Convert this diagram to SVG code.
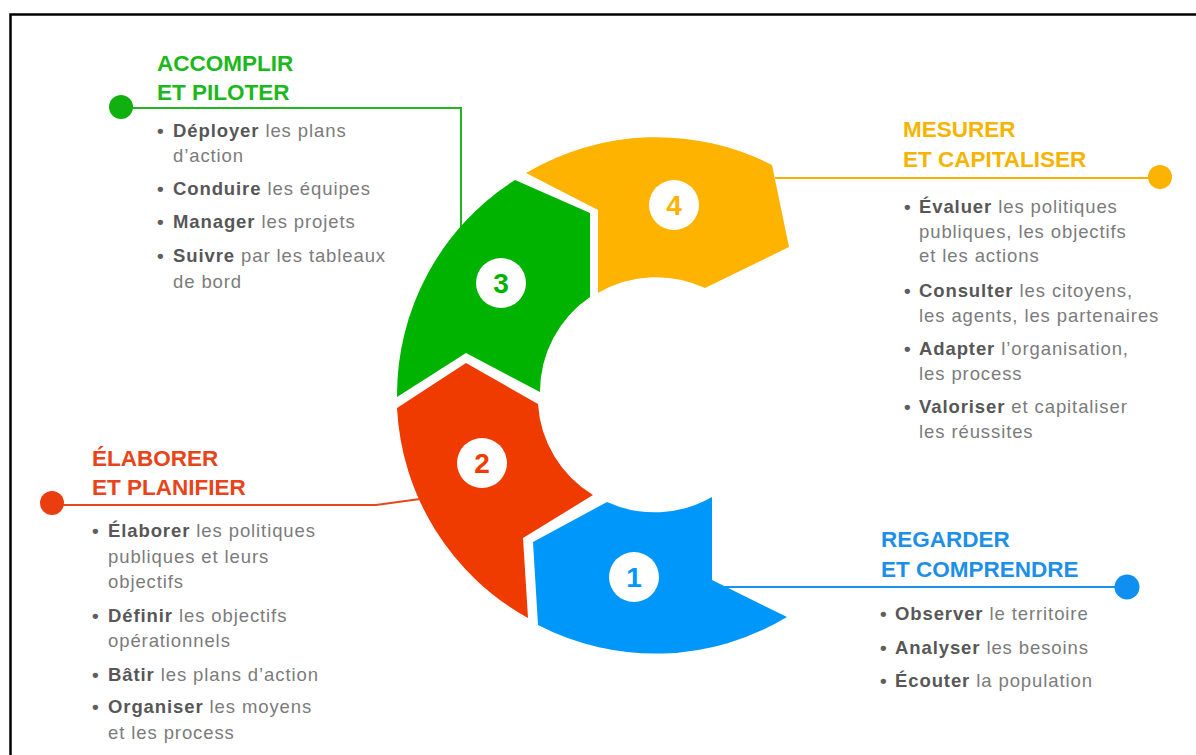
<svg xmlns="http://www.w3.org/2000/svg" width="1196" height="755" viewBox="0 0 1196 755">
<style>
.h{font-family:'Liberation Sans',Arial,sans-serif;font-weight:bold;font-size:22.5px}
.t{font-family:'Liberation Sans',Arial,sans-serif;font-size:18.5px;letter-spacing:0.9px;fill:#7b7b7b}
.t .b{font-weight:bold;fill:#575757}
.bul{font-family:'Liberation Sans',Arial,sans-serif;font-size:19px;font-weight:bold;fill:#5e5e5e}
.num{font-family:'Liberation Sans',Arial,sans-serif;font-weight:bold;font-size:28px;text-anchor:middle}
.c{fill:none;stroke-width:2}
</style>
<rect x="0" y="0" width="1196" height="755" fill="#ffffff"/>
<path d="M10.5,755 V14.5 H1196" fill="none" stroke="#000" stroke-width="2.5"/>

<g id="connectors">
  <polyline class="c" stroke="#22b422" points="121,108 461,108 461,227"/>
  <circle cx="121" cy="107" r="12" fill="#10b010"/>
  <polyline class="c" stroke="#e8461a" points="52,505 376,505 420,499"/>
  <circle cx="52" cy="503" r="12" fill="#ea3e10"/>
  <line class="c" stroke="#f7b200" x1="775" y1="178" x2="1160" y2="178"/>
  <circle cx="1160" cy="177" r="12" fill="#fbb300"/>
  <line class="c" stroke="#1a92ec" x1="714" y1="587" x2="1127" y2="587"/>
  <circle cx="1127" cy="587" r="12.5" fill="#0f90f0"/>
</g>

<g id="step4">
  <path d="M526,173 A255,255 0 0 1 772,165 L789,247 L705,288 A115,115 0 0 0 598,293 L598,210 Z" fill="#fdb300"/>
  <circle cx="674" cy="205" r="25" fill="#fff"/>
  <text class="num" x="674" y="215" fill="#fdb300">4</text>
</g>
<g id="step3">
  <path d="M397,397 A255,255 0 0 1 515,180 L590,213 L590,297 A115,115 0 0 0 540,392 L466,353 Z" fill="#00b300"/>
  <circle cx="501" cy="283" r="25" fill="#fff"/>
  <text class="num" x="501" y="293" fill="#00b300">3</text>
</g>
<g id="step2">
  <path d="M528,618 A255,255 0 0 1 397,408 L466,363 L538,404 A115,115 0 0 0 593,495 L523,538 Z" fill="#ef3b00"/>
  <circle cx="482" cy="463" r="25" fill="#fff"/>
  <text class="num" x="482" y="473" fill="#ef3b00">2</text>
</g>
<g id="step1">
  <path d="M538,625 A255,255 0 0 0 787,617 L712,580 L712,497 A115,115 0 0 1 607,502 L533,542 Z" fill="#0097fb"/>
  <circle cx="634" cy="577" r="25" fill="#fff"/>
  <text class="num" x="634" y="587" fill="#0097fb">1</text>
</g>

<g id="label3">
  <text class="h" x="157" y="71" fill="#1cb81c">ACCOMPLIR</text>
  <text class="h" x="157" y="100" fill="#1cb81c">ET PILOTER</text>
  <text class="bul" x="157" y="137">•</text>
  <text class="t" x="173" y="137"><tspan class="b">Déployer</tspan> les plans</text>
  <text class="t" x="173" y="162">d’action</text>
  <text class="bul" x="157" y="195">•</text>
  <text class="t" x="173" y="195"><tspan class="b">Conduire</tspan> les équipes</text>
  <text class="bul" x="157" y="228">•</text>
  <text class="t" x="173" y="228"><tspan class="b">Manager</tspan> les projets</text>
  <text class="bul" x="157" y="262">•</text>
  <text class="t" x="173" y="262"><tspan class="b">Suivre</tspan> par les tableaux</text>
  <text class="t" x="173" y="288">de bord</text>
</g>

<g id="label2">
  <text class="h" x="92" y="466" fill="#e8441a">ÉLABORER</text>
  <text class="h" x="92" y="495" fill="#e8441a">ET PLANIFIER</text>
  <text class="bul" x="92" y="537">•</text>
  <text class="t" x="108" y="537"><tspan class="b">Élaborer</tspan> les politiques</text>
  <text class="t" x="108" y="563">publiques et leurs</text>
  <text class="t" x="108" y="588">objectifs</text>
  <text class="bul" x="92" y="622">•</text>
  <text class="t" x="108" y="622"><tspan class="b">Définir</tspan> les objectifs</text>
  <text class="t" x="108" y="647">opérationnels</text>
  <text class="bul" x="92" y="681">•</text>
  <text class="t" x="108" y="681"><tspan class="b">Bâtir</tspan> les plans d’action</text>
  <text class="bul" x="92" y="713">•</text>
  <text class="t" x="108" y="713"><tspan class="b">Organiser</tspan> les moyens</text>
  <text class="t" x="108" y="739">et les process</text>
</g>

<g id="label4">
  <text class="h" x="903" y="137" fill="#f6b400">MESURER</text>
  <text class="h" x="903" y="167" fill="#f6b400">ET CAPITALISER</text>
  <text class="bul" x="904" y="213">•</text>
  <text class="t" x="919" y="213"><tspan class="b">Évaluer</tspan> les politiques</text>
  <text class="t" x="919" y="238">publiques, les objectifs</text>
  <text class="t" x="919" y="262">et les actions</text>
  <text class="bul" x="904" y="297">•</text>
  <text class="t" x="919" y="297"><tspan class="b">Consulter</tspan> les citoyens,</text>
  <text class="t" x="919" y="322">les agents, les partenaires</text>
  <text class="bul" x="904" y="355">•</text>
  <text class="t" x="919" y="355"><tspan class="b">Adapter</tspan> l’organisation,</text>
  <text class="t" x="919" y="380">les process</text>
  <text class="bul" x="904" y="413">•</text>
  <text class="t" x="919" y="413"><tspan class="b">Valoriser</tspan> et capitaliser</text>
  <text class="t" x="919" y="438">les réussites</text>
</g>

<g id="label1">
  <text class="h" x="881" y="547" fill="#1e8fe6">REGARDER</text>
  <text class="h" x="881" y="577" fill="#1e8fe6">ET COMPRENDRE</text>
  <text class="bul" x="880" y="620">•</text>
  <text class="t" x="895" y="620"><tspan class="b">Observer</tspan> le territoire</text>
  <text class="bul" x="880" y="654">•</text>
  <text class="t" x="895" y="654"><tspan class="b">Analyser</tspan> les besoins</text>
  <text class="bul" x="880" y="687">•</text>
  <text class="t" x="895" y="687"><tspan class="b">Écouter</tspan> la population</text>
</g>
</svg>
